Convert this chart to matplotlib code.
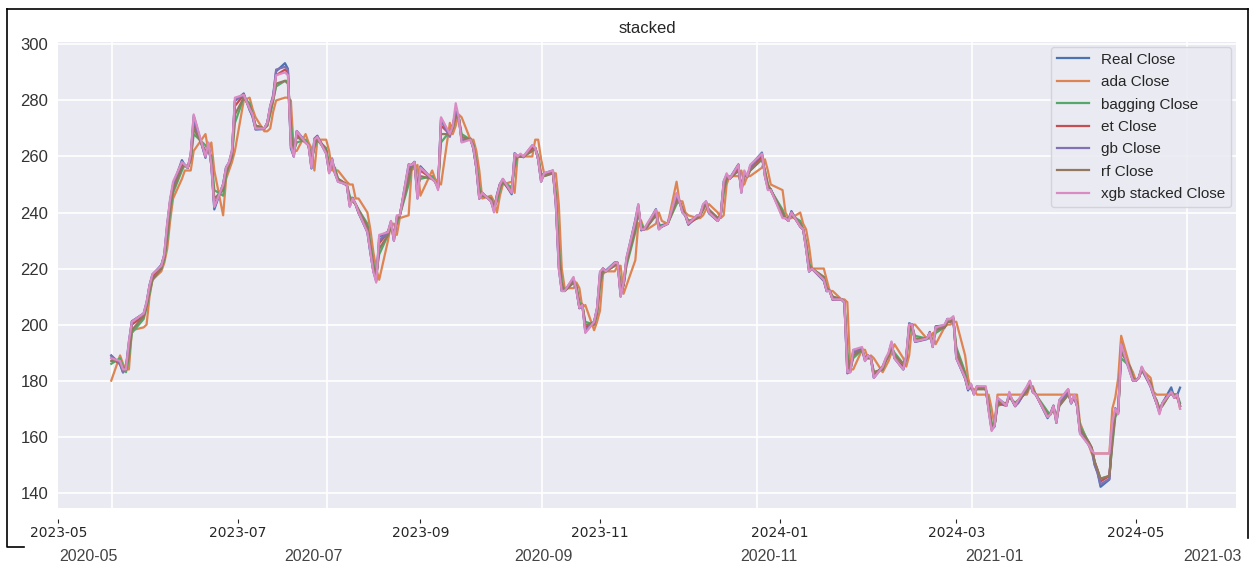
import pandas as pd
import matplotlib
matplotlib.use("Agg")
import matplotlib.pyplot as plt
import matplotlib.dates as mdates
import matplotlib.ticker as mticker
from matplotlib.lines import Line2D


# trading calendar for the plotted window
START = "2023-05-19"
HOLIDAYS = ["2023-05-29", "2023-06-19", "2023-07-04", "2023-09-04", "2023-11-23",
            "2023-12-25", "2024-01-01", "2024-01-15", "2024-02-19", "2024-03-29"]

REAL = [
    188.9, 185.8, 182.9, 184.5, 193.2, 201.2, 203.9,
    207.5, 214.0, 217.6, 221.3, 224.6, 234.9, 244.4, 249.8, 258.7, 256.8, 255.9, 260.5, 274.5, 259.5, 264.6, 256.6, 241.1, 250.2, 256.2, 257.5, 261.8,
    279.8, 282.5, 276.5, 274.4, 269.6, 269.8, 272.0, 277.9, 281.4, 290.4, 293.3, 291.3, 262.9, 260.0, 269.1, 265.3, 264.4, 255.7, 266.4, 267.4,
    261.1, 254.1, 259.3, 253.9, 251.5, 249.7, 242.2, 245.3, 242.7, 239.8, 233.0, 225.6, 219.2, 215.5, 231.3, 233.2, 236.9, 230.0, 238.6, 238.8, 257.2, 256.9, 258.1,
    245.0, 256.5, 251.9, 251.5, 248.5, 273.6, 267.5, 271.3, 276.0, 274.4, 265.3, 266.5, 262.6, 255.7, 244.9, 247.0, 244.1, 240.5, 246.4, 250.2,
    251.6, 246.5, 261.2, 260.1, 260.5, 259.7, 263.6, 263.0, 258.9, 251.1, 253.9, 254.9, 242.7, 220.1, 212.0, 212.1, 216.5, 212.4, 205.8, 207.3, 197.4, 200.8,
    205.7, 218.5, 220.0, 219.3, 222.2, 222.1, 210.0, 214.7, 223.7, 237.4, 242.8, 233.6, 234.3, 235.6, 241.2, 234.2, 235.5, 236.1, 246.7, 244.1, 240.1,
    238.8, 235.6, 238.7, 239.4, 242.6, 243.8, 239.7, 237.0, 239.3, 251.1, 253.5, 252.1, 257.2, 247.1, 254.5, 252.5, 256.6, 261.4, 253.2, 248.5,
    248.4, 238.5, 237.9, 237.5, 240.5, 235.0, 233.9, 227.2, 218.9, 219.9, 215.6, 211.9, 212.2, 208.8, 209.1, 207.8, 182.6, 183.3, 190.9, 191.6, 187.3,
    188.9, 187.9, 181.1, 185.1, 187.6, 189.6, 193.6, 188.1, 184.0, 188.7, 200.5, 200.0, 193.8, 194.8, 197.4, 192.0, 199.4, 199.7, 202.0, 201.9,
    202.6, 188.1, 180.7, 176.5, 178.7, 175.3, 177.8, 177.5, 169.5, 162.5, 163.6, 173.8, 171.3, 175.7, 172.8, 170.8, 172.6, 177.7, 179.8, 175.8,
    175.2, 166.6, 168.4, 171.1, 164.9, 173.0, 176.9, 171.8, 174.6, 171.1, 161.5, 157.1, 155.5, 149.9, 147.1, 142.1, 144.7, 162.1, 170.2, 168.3, 194.1, 183.3,
    180.0, 180.0, 181.2, 184.8, 177.8, 174.7, 172.0, 168.5, 171.9, 177.6, 174.0, 174.8, 177.5,
]

ADA = [
    180, 189, 186, 184, 184, 198, 199,
    200, 210, 216, 219, 222, 227, 237, 245, 252, 255, 255, 255, 262, 268, 262, 265, 255, 239, 252, 255, 258,
    262, 280, 281, 277, 274, 269, 269, 270, 276, 280, 281, 281, 280, 262, 262, 268, 265, 263, 255, 266,
    266, 262, 255, 255, 255, 251, 250, 250, 245, 245, 240, 234, 226, 220, 216, 230, 236, 236, 232, 238, 239, 255, 256,
    257, 246, 255, 252, 251, 250, 272, 268, 271, 275, 274, 266, 266, 262, 255, 245, 246, 244, 240, 246,
    250, 251, 247, 260, 260, 260, 260, 266, 266, 259, 254, 254, 254, 243, 220, 213, 213, 215, 213, 206, 207, 198,
    201, 205, 218, 219, 219, 221, 221, 211, 214, 223, 236, 237, 234, 234, 236, 240, 237, 236, 251, 244, 244,
    240, 239, 238, 238, 239, 241, 243, 240, 238, 239, 250, 253, 253, 255, 250, 253, 253, 256, 259, 255,
    250, 248, 240, 238, 238, 240, 236, 234, 228, 220, 220, 216, 212, 212, 209, 209, 208, 184, 184, 191, 191,
    188, 189, 188, 183, 185, 187, 190, 193, 188, 185, 189, 200, 200, 195, 195, 197, 193, 199, 200, 200,
    201, 201, 189, 181, 177, 177, 175, 175, 175, 170, 164, 175, 175, 175, 175, 175, 175, 175, 178, 178,
    175, 175, 175, 175, 175, 175, 175, 175, 175, 175, 165, 157, 154, 154, 154, 154, 154, 170, 174, 181, 196, 185,
    183, 180, 181, 184, 181, 176, 175, 175, 175, 175, 175, 175, 170,
]

BAGGING = [
    186, 188, 185, 183, 188, 197, 202,
    206, 211, 216, 220, 223, 230, 240, 247, 255, 257, 256, 259, 268, 264, 262, 260, 248, 246, 253, 257, 260,
    272, 281, 279, 275, 271, 270, 271, 275, 280, 285, 287, 287, 272, 262, 265, 266, 264, 259, 263, 266,
    263, 257, 257, 256, 252, 250, 246, 244, 243, 241, 236, 229, 222, 218, 225, 232, 235, 233, 236, 239, 250, 256, 257,
    250, 252, 253, 251, 249, 265, 269, 270, 274, 274, 268, 266, 264, 258, 249, 246, 245, 242, 244, 248,
    251, 249, 256, 260, 260, 260, 262, 263, 260, 254, 253, 254, 247, 228, 215, 212, 215, 214, 208, 207, 201, 200,
    204, 214, 219, 219, 221, 222, 214, 214, 221, 233, 240, 236, 234, 235, 239, 236, 235, 236, 243, 244, 241,
    239, 237, 238, 239, 241, 243, 241, 238, 239, 247, 252, 252, 255, 250, 253, 253, 255, 259, 255, 250,
    248, 241, 238, 238, 239, 237, 234, 229, 222, 220, 217, 213, 212, 210, 209, 208, 190, 184, 188, 191, 188,
    188, 188, 183, 184, 187, 189, 192, 190, 186, 188, 197, 199, 196, 195, 196, 194, 197, 199, 201, 201,
    202, 192, 183, 178, 178, 176, 177, 177, 172, 165, 164, 171, 172, 174, 173, 172, 173, 176, 179, 177,
    175, 169, 168, 170, 167, 171, 175, 173, 174, 172, 164, 158, 156, 151, 148, 145, 146, 157, 167, 169, 188, 185,
    181, 180, 181, 184, 179, 175, 173, 170, 171, 176, 175, 175, 172,
]

ET = [
    188, 186, 184, 184, 191, 200, 203,
    207, 213, 217, 221, 224, 233, 243, 249, 257, 257, 256, 260, 272, 261, 264, 258, 243, 249, 255, 257, 261,
    278, 282, 277, 275, 271, 270, 272, 277, 281, 289, 291, 290, 266, 261, 268, 265, 264, 257, 265, 267,
    262, 255, 258, 254, 252, 250, 243, 245, 243, 240, 234, 227, 220, 216, 229, 233, 236, 231, 238, 239, 255, 257, 258,
    247, 255, 252, 251, 249, 271, 268, 271, 275, 274, 266, 266, 263, 256, 246, 247, 244, 241, 246, 250,
    251, 247, 260, 260, 260, 260, 263, 263, 259, 252, 254, 254, 244, 222, 213, 212, 216, 213, 206, 207, 199, 201,
    205, 217, 220, 219, 222, 222, 211, 214, 223, 236, 242, 234, 234, 235, 240, 235, 235, 236, 245, 244, 241,
    239, 236, 238, 239, 242, 243, 240, 237, 239, 250, 253, 252, 256, 248, 254, 253, 256, 260, 254, 249,
    248, 239, 238, 237, 240, 235, 234, 228, 220, 220, 216, 212, 212, 209, 209, 208, 185, 184, 190, 191, 188,
    189, 188, 182, 185, 187, 189, 193, 188, 185, 188, 199, 200, 194, 195, 197, 193, 199, 199, 201, 201,
    202, 189, 181, 177, 178, 176, 177, 177, 170, 163, 164, 172, 171, 175, 173, 171, 172, 177, 179, 176,
    175, 167, 168, 171, 166, 172, 176, 172, 174, 171, 162, 158, 156, 151, 148, 144, 146, 160, 169, 169, 192, 184,
    180, 180, 181, 184, 178, 175, 172, 169, 172, 176, 174, 174, 171,
]

GB = [
    189, 186, 183, 185, 194, 201, 204,
    208, 214, 218, 221, 225, 236, 244, 250, 258, 257, 256, 261, 273, 260, 264, 257, 242, 250, 256, 258, 262,
    280, 282, 277, 274, 270, 270, 272, 278, 282, 291, 292, 291, 264, 260, 269, 265, 264, 256, 266, 267,
    261, 255, 259, 254, 251, 250, 243, 245, 243, 240, 233, 226, 219, 216, 230, 233, 236, 230, 238, 239, 256, 257, 258,
    246, 256, 252, 251, 249, 273, 267, 271, 276, 274, 266, 266, 263, 256, 245, 247, 244, 241, 246, 250,
    252, 247, 261, 260, 260, 260, 264, 263, 259, 251, 254, 255, 243, 221, 212, 212, 216, 212, 206, 207, 198, 201,
    206, 218, 220, 219, 222, 222, 211, 215, 223, 237, 242, 234, 234, 235, 241, 234, 235, 236, 246, 244, 240,
    239, 236, 239, 239, 242, 244, 240, 237, 239, 250, 253, 252, 257, 248, 254, 253, 256, 261, 253, 249,
    248, 239, 238, 237, 240, 235, 234, 227, 219, 220, 216, 212, 212, 209, 209, 208, 183, 183, 190, 191, 187,
    189, 188, 181, 185, 187, 189, 193, 188, 184, 188, 200, 200, 194, 195, 197, 192, 199, 199, 202, 202,
    202, 188, 181, 177, 178, 175, 178, 177, 170, 163, 164, 173, 171, 175, 173, 171, 172, 177, 179, 176,
    175, 167, 168, 171, 165, 172, 176, 172, 174, 171, 162, 157, 155, 150, 147, 143, 145, 161, 169, 169, 192, 183,
    180, 180, 181, 184, 178, 175, 172, 169, 172, 176, 174, 175, 171,
]

RF = [
    187, 187, 184, 184, 190, 198, 203,
    207, 212, 216, 220, 224, 232, 242, 248, 256, 257, 256, 259, 270, 262, 263, 259, 245, 248, 254, 257, 260,
    275, 281, 278, 275, 271, 270, 271, 276, 280, 286, 287, 286, 268, 262, 267, 265, 264, 258, 264, 266,
    262, 256, 258, 255, 252, 250, 245, 244, 243, 241, 235, 228, 221, 217, 227, 232, 235, 232, 237, 239, 252, 256, 257,
    249, 253, 252, 251, 249, 268, 268, 270, 274, 274, 267, 266, 264, 257, 248, 246, 245, 242, 245, 249,
    251, 248, 258, 260, 260, 260, 262, 263, 260, 253, 253, 254, 246, 226, 214, 212, 215, 213, 207, 207, 200, 200,
    204, 215, 219, 219, 221, 222, 213, 214, 222, 234, 241, 235, 234, 235, 239, 235, 235, 236, 244, 244, 241,
    239, 237, 238, 239, 241, 243, 241, 238, 239, 248, 252, 252, 255, 249, 253, 253, 255, 259, 255, 250,
    248, 240, 238, 238, 239, 236, 234, 229, 221, 220, 217, 213, 212, 210, 209, 208, 188, 184, 189, 191, 188,
    188, 188, 183, 184, 187, 189, 192, 189, 186, 188, 198, 199, 195, 195, 196, 194, 198, 199, 201, 201,
    202, 191, 182, 178, 178, 176, 177, 177, 171, 164, 164, 172, 172, 174, 173, 172, 173, 176, 179, 177,
    175, 168, 168, 170, 166, 171, 175, 173, 174, 172, 163, 158, 156, 151, 148, 145, 146, 158, 168, 169, 190, 185,
    181, 180, 181, 184, 179, 175, 173, 170, 171, 176, 175, 175, 171,
]

XGB_STACKED = [
    188, 187, 184, 184, 194, 201, 204,
    208, 214, 218, 221, 225, 236, 245, 251, 258, 257, 256, 261, 275, 260, 265, 257, 242, 250, 256, 258, 262,
    281, 282, 277, 275, 270, 270, 272, 278, 281, 289, 290, 289, 264, 260, 269, 265, 264, 256, 266, 267,
    261, 254, 259, 254, 251, 250, 242, 245, 243, 240, 233, 226, 219, 215, 232, 233, 237, 230, 239, 239, 257, 257, 258,
    245, 256, 252, 251, 248, 274, 268, 271, 279, 274, 265, 266, 263, 256, 245, 247, 244, 240, 246, 250,
    252, 247, 261, 260, 261, 260, 264, 263, 259, 251, 254, 255, 243, 220, 212, 212, 217, 212, 206, 207, 197, 201,
    206, 219, 220, 219, 222, 222, 210, 215, 224, 237, 243, 234, 234, 236, 241, 234, 235, 236, 247, 244, 240,
    239, 236, 239, 239, 243, 244, 240, 237, 239, 251, 254, 252, 257, 247, 255, 253, 257, 261, 253, 248,
    248, 238, 238, 237, 240, 235, 234, 227, 219, 220, 216, 212, 212, 209, 209, 208, 183, 183, 191, 192, 187,
    189, 188, 181, 185, 188, 190, 194, 188, 184, 189, 200, 200, 194, 195, 197, 192, 199, 200, 202, 202,
    203, 188, 181, 177, 179, 175, 178, 178, 169, 162, 164, 174, 171, 176, 173, 171, 173, 178, 180, 176,
    175, 167, 168, 171, 165, 173, 177, 172, 175, 171, 161, 157, 155, 154, 154, 154, 154, 165, 170, 168, 193, 183,
    180, 180, 181, 185, 178, 175, 172, 168, 172, 176, 174, 175, 170,
]

LABELS = ["Real Close", "ada Close", "bagging Close", "et Close", "gb Close", "rf Close",
          "xgb stacked Close"]
SERIES = [REAL, ADA, BAGGING, ET, GB, RF, XGB_STACKED]
COLORS = ["#4C72B0", "#DD8452", "#55A868", "#C44E52", "#8172B3", "#937860", "#DA8BC3"]

# view windows of the two date strips
OLD_XLIM = ("2020-04-22 21:30", "2021-03-07 07:00")
NEW_XLIM = ("2023-04-30 22:00", "2024-06-04")


def set_style():
    plt.rcParams.update({
        "font.family":      ["Liberation Sans", "DejaVu Sans"],
        "font.size":        12,
        "text.color":       "#262626",
        "xtick.color":      "#262626",
        "ytick.color":      "#262626",
        "axes.facecolor":   "#EAEAF2",
        "axes.edgecolor":   "white",
    })


set_style()
W, H = 1256, 564
fig = plt.figure(figsize=(W / 100, H / 100), dpi=100)
rect = [58 / W, 1 - 508 / H, (1236 - 58) / W, (508 - 42) / H]

# background axes: grid on a plain index scale
ax_bg = fig.add_axes(rect)
ax = fig.add_axes(rect, sharey=ax_bg)
ax.patch.set_visible(False)

dates = pd.bdate_range(START, periods=len(REAL), freq="C", holidays=HOLIDAYS)
for name, vals, c in zip(LABELS, SERIES, COLORS):
    ax.plot(dates, vals, color=c, lw=1.6, label=name)

n = len(REAL)
ax_bg.set_xlim(-0.05 * (n - 1), 1.05 * (n - 1))
ax_bg.xaxis.set_major_locator(mticker.MultipleLocator(50))
ax_bg.yaxis.set_major_locator(mticker.MultipleLocator(20))
ax_bg.grid(True, color="white", lw=1.2)
ax_bg.set_axisbelow(True)
ax_bg.tick_params(axis="both", length=0, labelbottom=False, labelleft=False)

ax.set_xlim(pd.Timestamp(NEW_XLIM[0]), pd.Timestamp(NEW_XLIM[1]))
ax.xaxis.set_major_locator(mdates.MonthLocator(bymonth=[1, 3, 5, 7, 9, 11]))
ax.xaxis.set_major_formatter(mdates.DateFormatter("%Y-%m"))
ax.grid(False)
ax.spines["bottom"].set_position(("outward", 8))
ax.tick_params(axis="x", length=3, width=0.8, pad=2, labelsize=10,
               labelfontfamily="DejaVu Sans")
ax.tick_params(axis="y", length=0, pad=7, labelsize=12, labelcolor="#333333")
for a in (ax, ax_bg):
    for s in a.spines.values():
        s.set_visible(False)

ax.set_title("stacked", fontsize=12, pad=6.5)
ax.legend(loc="upper right", fontsize=11, labelspacing=0.55, borderaxespad=0.3,
          facecolor="#EAEAF2", edgecolor="#d0d0d8", framealpha=0.85, handlelength=2.1)

# older date strip below the frame
ax_old = fig.add_axes([58 / W, 1 - 549 / H, (1236 - 58) / W, 0.0001])
ax_old.patch.set_visible(False)
for s in ax_old.spines.values():
    s.set_visible(False)
ax_old.set_xlim(pd.Timestamp(OLD_XLIM[0]), pd.Timestamp(OLD_XLIM[1]))
ax_old.xaxis.set_major_locator(mdates.MonthLocator(bymonth=[1, 3, 5, 7, 9, 11]))
ax_old.xaxis.set_major_formatter(mdates.DateFormatter("%Y-%m"))
ax_old.tick_params(axis="x", length=0, pad=0, labelsize=11.5, labelcolor="#444444")
ax_old.set_yticks([])

# black frame around the chart
frame = dict(transform=fig.transFigure, color="black", lw=1.2)
fig.add_artist(Line2D([7 / W, 1248 / W], [1 - 9 / H, 1 - 9 / H], **frame))
fig.add_artist(Line2D([7 / W, 7 / W, 24 / W], [1 - 9 / H, 1 - 547 / H, 1 - 547 / H], **frame))
fig.add_artist(Line2D([1248 / W, 1248 / W], [1 - 9 / H, 1 - 538 / H], **frame))

fig.savefig("out.png", dpi=100, facecolor="white")
plt.close(fig)
